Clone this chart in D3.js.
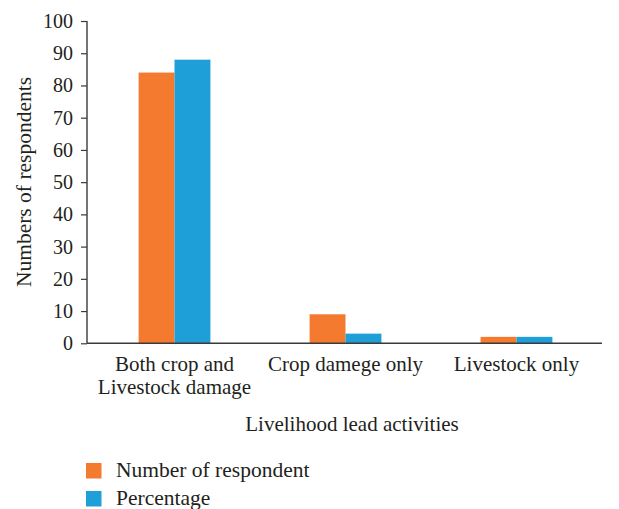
<!DOCTYPE html>
<html><head><meta charset="utf-8">
<script src="https://cdn.jsdelivr.net/npm/d3@7"></script>
<style>body{margin:0;background:#fff}svg{display:block}text{font-family:"Liberation Serif","Times New Roman",serif;fill:#231f20}</style>
</head><body>
<svg id="c" width="619" height="509"></svg>
<script>
const categories = [["Both crop and","Livestock damage"],["Crop damege only"],["Livestock only"]];
const seriesNames = ["Number of respondent","Percentage"];
const numberOfRespondent = [84, 9, 2];
const percentage = [88, 3, 2];
const yTicks = [0,10,20,30,40,50,60,70,80,90,100];
const colors = ["#F47A30","#1E9FD8"];

const svg = d3.select("#c");
const x0 = 87, x1 = 602, yb = 343.3, yt = 21;
const keys = categories.map((c,i)=>i);
const x = d3.scaleBand().domain(keys).range([89, x1]).paddingInner(0.58).paddingOuter(0.29);
const xs = d3.scaleBand().domain([0,1]).range([0, x.bandwidth()]);
const y = d3.scaleLinear().domain([0,100]).range([yb, yt]);
const series = [numberOfRespondent, percentage];

const g = svg.append("g");
series.forEach((vals, si) => {
  g.selectAll(null).data(vals).enter().append("rect")
    .attr("x", (d,i)=>x(i)+xs(si))
    .attr("width", xs.bandwidth())
    .attr("y", d=>y(d))
    .attr("height", d=>yb - y(d))
    .attr("fill", colors[si]);
});

const yAxis = d3.axisLeft(y).tickValues(yTicks).tickSize(6).tickPadding(8);
const ya = svg.append("g").attr("transform", `translate(${x0},0)`).call(yAxis);
ya.select(".domain").attr("stroke","#3a3a3a").attr("stroke-width",1.4).attr("d",`M0,${yt}V${yb}`);
ya.selectAll(".tick line").attr("stroke","#3a3a3a").attr("stroke-width",1.2);
ya.selectAll(".tick text").attr("font-size",20).attr("fill","#231f20").style("font-family","Liberation Serif");

svg.append("line").attr("x1",x0).attr("x2",x1).attr("y1",yb).attr("y2",yb)
  .attr("stroke","#3a3a3a").attr("stroke-width",1.4);

categories.forEach((lines,i)=>{
  const cx = x(i)+x.bandwidth()/2;
  lines.forEach((t,j)=>{
    svg.append("text").attr("x",cx).attr("y",371+j*23).attr("text-anchor","middle")
      .attr("font-size",21).text(t);
  });
});

svg.append("text").attr("x",352).attr("y",431).attr("text-anchor","middle").attr("font-size",21).text("Livelihood lead activities");
svg.append("text").attr("transform","translate(31,182) rotate(-90)").attr("text-anchor","middle").attr("font-size",21.5).text("Numbers of respondents");

seriesNames.forEach((n,i)=>{
  svg.append("rect").attr("x",86).attr("y",463+i*28).attr("width",15.5).attr("height",15.5).attr("fill",colors[i]);
  svg.append("text").attr("x",116).attr("y",476.5+i*28).attr("font-size",21.5).text(n);
});
</script>
</body></html>
